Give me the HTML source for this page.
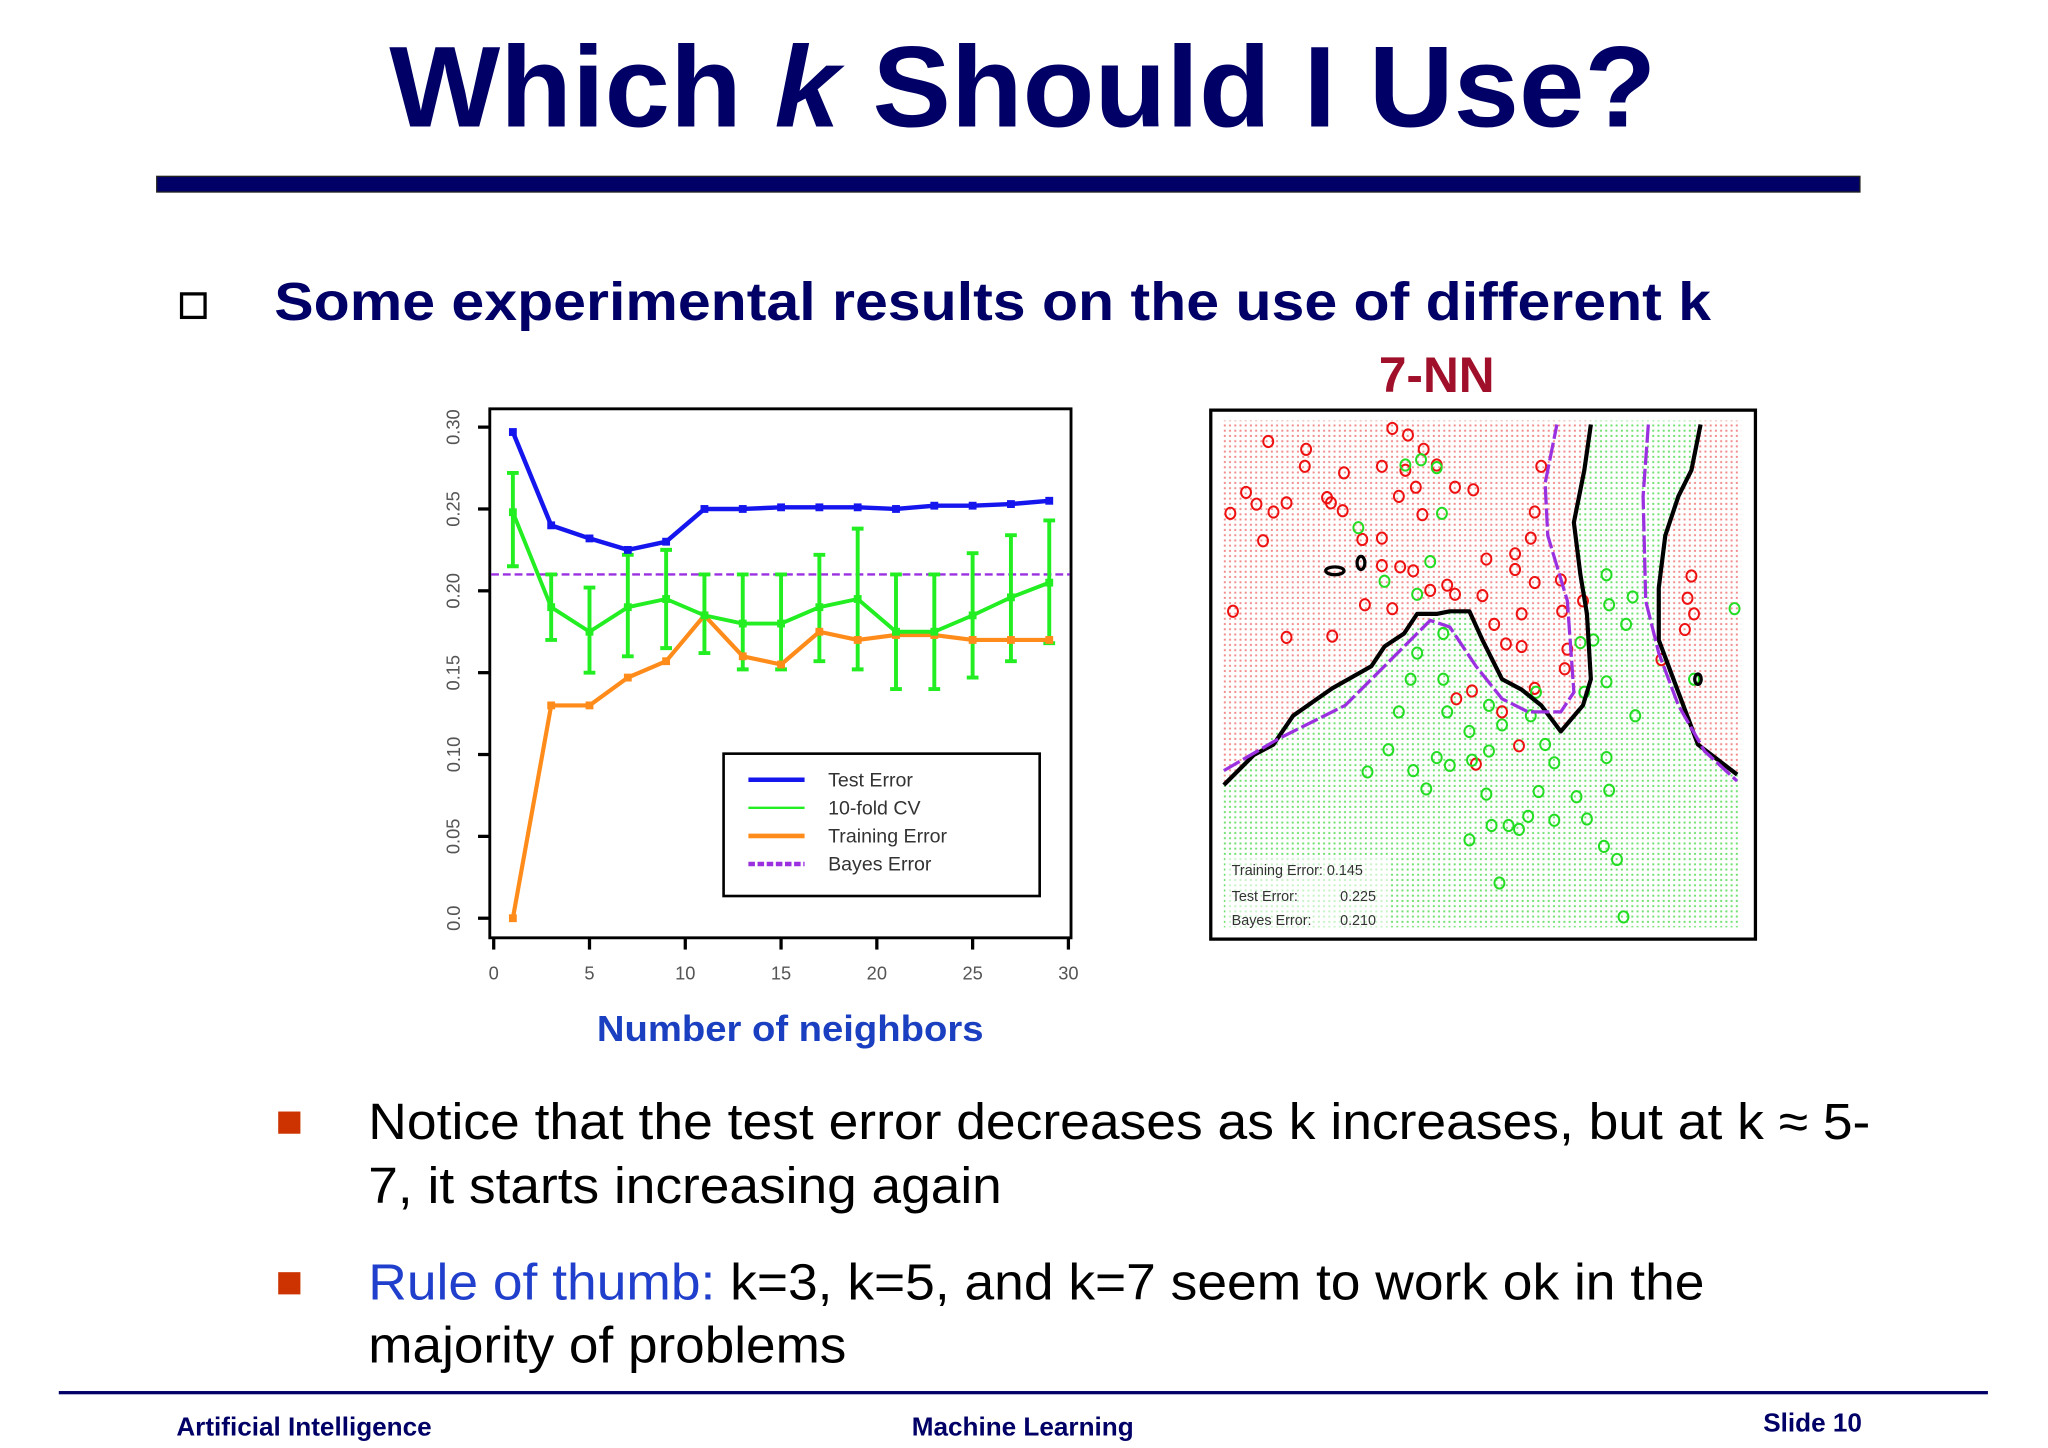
<!DOCTYPE html>
<html><head><meta charset="utf-8"><style>
html,body{margin:0;padding:0;background:#fff;width:2048px;height:1448px;overflow:hidden}
svg{display:block}
text{font-family:"Liberation Sans",Arial,sans-serif}
</style></head><body>
<svg id="page" width="2048" height="1448" viewBox="0 0 1568 1108.6" xmlns="http://www.w3.org/2000/svg">
<defs>
<pattern id="gdots" width="4" height="4" patternUnits="userSpaceOnUse"><rect x="1" y="1" width="1.5" height="1.5" fill="#6ee06e"/></pattern>
<pattern id="rdots" width="4" height="4" patternUnits="userSpaceOnUse"><rect width="4" height="4" fill="#fff"/><rect x="1" y="1" width="1.5" height="1.5" fill="#f28a8a"/></pattern>
</defs>
<text x="783" y="97" text-anchor="middle" font-size="88" font-weight="bold" fill="#000066" textLength="970" lengthAdjust="spacingAndGlyphs">Which <tspan font-style="italic">k</tspan> Should I Use?</text>
<rect x="120" y="135" width="1304" height="12" fill="#000066" stroke="#222" stroke-width="1"/>
<rect x="139" y="225" width="18" height="18" fill="none" stroke="#000" stroke-width="2.5"/>
<text x="210" y="245" font-size="41" font-weight="bold" fill="#000066" textLength="1100" lengthAdjust="spacingAndGlyphs">Some experimental results on the use of different k</text>
<text x="1100" y="300" text-anchor="middle" font-size="38" font-weight="bold" fill="#a0102a">7-NN</text>

<g id="chart"></g>
<text x="605" y="797" text-anchor="middle" font-size="28" font-weight="bold" fill="#1a3fc0" textLength="296" lengthAdjust="spacingAndGlyphs">Number of  neighbors</text>

<g id="knn">
<rect x="935" y="322" width="398" height="388" fill="url(#gdots)"/>
<polygon fill="url(#rdots)" points="935,322 1218,322 1213,360 1205,400 1210,440 1215,470 1218,520 1212,540 1195,560 1180,540 1165,528 1150,520 1135,490 1125,468 1100,470 1075,485 1050,510 1020,527 990,548 960,578 935,601"/>
<polygon fill="url(#rdots)" points="1302,322 1333,322 1333,595 1330,593 1300,570 1285,530 1270,490 1270,450 1275,410 1285,380 1295,360"/>
<rect x="938" y="655" width="125" height="55" fill="#fff" opacity="0.6"/>
<rect x="927" y="314" width="417" height="405" fill="none" stroke="#000" stroke-width="2.5"/>
<g id="pts"></g>
<polyline fill="none" stroke="#000" stroke-width="3.2" stroke-linejoin="round" points="937,601 960,578 975,570 990,548 1020,527 1050,510 1060,495 1075,485 1085,470 1100,470 1110,468 1125,468 1135,490 1150,520 1165,528 1180,540 1195,560 1212,540 1218,520 1215,470 1210,440 1205,400 1213,360 1218,325"/>
<polyline fill="none" stroke="#000" stroke-width="3.2" stroke-linejoin="round" points="1302,325 1295,360 1285,380 1275,410 1270,450 1270,490 1285,530 1300,570 1330,593"/>
<ellipse cx="1022" cy="437" rx="7" ry="3" fill="none" stroke="#000" stroke-width="2.5"/>
<ellipse cx="1042" cy="431" rx="3" ry="5" fill="none" stroke="#000" stroke-width="2.5"/>
<ellipse cx="1300" cy="520" rx="2.5" ry="4" fill="none" stroke="#000" stroke-width="2.5"/>
<polyline fill="none" stroke="#9b30e0" stroke-width="2.5" stroke-dasharray="14,3" points="937,590 980,565 1030,540 1070,500 1095,475 1110,480 1130,510 1150,535 1170,545 1195,545 1205,530 1200,460 1185,410 1183,370 1192,325"/>
<polyline fill="none" stroke="#9b30e0" stroke-width="2.5" stroke-dasharray="14,3" points="1262,325 1258,380 1260,460 1270,500 1285,540 1305,575 1330,598"/>
<g font-size="11" fill="#333">
<text x="943" y="670">Training Error: 0.145</text>
<text x="943" y="690">Test Error:</text>
<text x="1026" y="690">0.225</text>
<text x="943" y="708">Bayes Error:</text>
<text x="1026" y="708">0.210</text>
</g>
</g>

<rect x="213" y="851" width="17" height="17" fill="#cc3300"/>
<text x="282" y="872" font-size="39" fill="#000" textLength="1150" lengthAdjust="spacingAndGlyphs">Notice that the test error decreases as k increases, but at k ≈ 5-</text>
<text x="282" y="921" font-size="39" fill="#000" textLength="485" lengthAdjust="spacingAndGlyphs">7, it starts increasing again</text>
<rect x="213" y="974" width="17" height="17" fill="#cc3300"/>
<text x="282" y="995" font-size="39" fill="#000" textLength="1023" lengthAdjust="spacingAndGlyphs"><tspan fill="#1f3fcc">Rule of thumb:</tspan> k=3, k=5, and k=7 seem to work ok in the</text>
<text x="282" y="1043" font-size="39" fill="#000" textLength="366" lengthAdjust="spacingAndGlyphs">majority of problems</text>

<rect x="45" y="1065" width="1477" height="2.5" fill="#000066"/>
<text x="135" y="1099" font-size="20" font-weight="bold" fill="#000066">Artificial Intelligence</text>
<text x="783" y="1099" text-anchor="middle" font-size="20" font-weight="bold" fill="#000066">Machine Learning</text>
<text x="1350" y="1096" font-size="20" font-weight="bold" fill="#000066">Slide 10</text>
</svg>
<script>
const NS="http://www.w3.org/2000/svg";
const ks=[1,3,5,7,9,11,13,15,17,19,21,23,25,27,29];
const testErr=[0.297,0.240,0.232,0.225,0.230,0.250,0.250,0.251,0.251,0.251,0.250,0.252,0.252,0.253,0.255];
const cvErr=[0.248,0.190,0.175,0.190,0.195,0.185,0.180,0.180,0.190,0.195,0.175,0.175,0.185,0.196,0.205];
const cvLo=[0.215,0.170,0.150,0.160,0.165,0.162,0.152,0.152,0.157,0.152,0.140,0.140,0.147,0.157,0.168];
const cvHi=[0.272,0.210,0.202,0.222,0.225,0.210,0.210,0.210,0.222,0.238,0.210,0.210,0.223,0.234,0.243];
const trainErr=[0.000,0.130,0.130,0.147,0.157,0.185,0.160,0.155,0.175,0.170,0.173,0.173,0.170,0.170,0.170];
const bayesErr=0.21;
const yTicks=[0,0.05,0.10,0.15,0.20,0.25,0.30];
const yTickLabels=["0.0","0.05","0.10","0.15","0.20","0.25","0.30"];
const xTicks=[0,5,10,15,20,25,30];
const xTickLabels=["0","5","10","15","20","25","30"];
const redPts=[[971,338],[1000,344],[1029,362],[1066,328],[1078,333],[1090,344],[999,357],[1016,381],[942,393],[954,377],[962,386],[975,392],[985,385],[967,414],[1019,385],[1028,391],[1058,357],[1076,360],[1084,373],[1100,356],[1114,373],[1128,375],[1089,394],[1071,380],[1043,413],[1058,433],[1082,437],[1095,452],[1108,448],[1066,466],[1072,434],[1058,412],[1045,463],[1020,487],[985,488],[944,468],[1138,428],[1160,424],[1172,412],[1160,436],[1175,446],[1135,456],[1114,455],[1165,470],[1144,478],[1153,493],[1165,495],[1200,497],[1196,468],[1212,460],[1198,512],[1175,527],[1150,545],[1163,571],[1130,585],[1127,529],[1295,441],[1292,458],[1297,470],[1290,482],[1272,505],[1180,357],[1175,392],[1195,444],[1115,535]];
const greenPts=[[1076,356],[1088,352],[1100,358],[1040,404],[1095,430],[1104,393],[1060,445],[1085,455],[1105,485],[1230,440],[1232,463],[1245,478],[1220,490],[1250,457],[1210,492],[1213,530],[1230,522],[1176,530],[1150,555],[1140,540],[1105,520],[1108,545],[1085,500],[1080,520],[1071,545],[1063,574],[1082,590],[1047,591],[1092,604],[1110,586],[1125,560],[1140,575],[1138,608],[1142,632],[1155,632],[1170,625],[1178,606],[1190,628],[1207,610],[1215,627],[1232,605],[1230,580],[1163,635],[1125,643],[1148,676],[1228,648],[1238,658],[1243,702],[1328,466],[1297,520],[1252,548],[1172,548],[1183,570],[1190,584],[1127,582],[1100,580]];

const X0=378,X1=818,Y0=703,Y1=327;
const sx=v=>X0+(v-0)/30*(X1-X0);
const sy=v=>Y0-(v-0)/0.30*(Y0-Y1);
function mk(tag,attrs,parent){const e=document.createElementNS(NS,tag);for(const k in attrs)e.setAttribute(k,attrs[k]);parent.appendChild(e);return e;}
const g=document.getElementById('chart');
const frame=mk('rect',{x:375,y:313,width:445,height:405,fill:'#fff',stroke:'#000','stroke-width':2.2},g);


yTicks.forEach((t,i)=>{
  const l=mk('line',{x1:366,x2:375,y1:sy(t),y2:sy(t),stroke:'#000','stroke-width':2.5},g);
  
  
  const tx=mk('text',{x:352,y:sy(t),'text-anchor':'middle','font-size':14,fill:'#555',transform:`rotate(-90 352 ${sy(t)})`},g);
  tx.textContent=yTickLabels[i];
  
  
});
xTicks.forEach((t,i)=>{
  const l=mk('line',{x1:sx(t),x2:sx(t),y1:718,y2:727,stroke:'#000','stroke-width':2.5},g);
  
  
  const tx=mk('text',{x:sx(t),y:750,'text-anchor':'middle','font-size':14,fill:'#555'},g);
  tx.textContent=xTickLabels[i];
  
  
});
const bl=mk('line',{x1:376,x2:819,y1:sy(bayesErr),y2:sy(bayesErr),stroke:'#9b30e0','stroke-width':1.8,'stroke-dasharray':'6,3'},g);


function series(vals,color,w,name){
  const pl=mk('polyline',{fill:'none',stroke:color,'stroke-width':w,'stroke-linejoin':'round',points:ks.map((k,i)=>sx(k)+','+sy(vals[i])).join(' ')},g);
  
  
  ks.forEach((k,i)=>{
    const p=mk('rect',{x:sx(k)-3,y:sy(vals[i])-3,width:6,height:6,fill:color},g);
    
    
  });
}
ks.forEach((k,i)=>{
  const eb=mk('path',{d:`M${sx(k)},${sy(cvLo[i])}V${sy(cvHi[i])}M${sx(k)-4.5},${sy(cvLo[i])}h9M${sx(k)-4.5},${sy(cvHi[i])}h9`,stroke:'#22ee22','stroke-width':3,fill:'none'},g);
  
  
});
series(trainErr,'#ff8c1a',3.2,'training-error');
series(cvErr,'#22ee22',3,'cv-error');
series(testErr,'#1515ee',3.4,'test-error');
const lg=mk('g',{},g);


mk('rect',{x:554,y:577,width:242,height:109,fill:'#fff',stroke:'#000','stroke-width':2},lg);
const items=[['Test Error','#1515ee',3.5,''],['10-fold CV','#22ee22',1.8,''],['Training Error','#ff8c1a',3.5,''],['Bayes Error','#9b30e0',3.5,'5,2']];
items.forEach((it,i)=>{
  const y=597+i*21.5;
  const ln=mk('line',{x1:573,x2:616,y1:y,y2:y,stroke:it[1],'stroke-width':it[2],'stroke-dasharray':it[3]||'none'},lg);
  
  
  const t=mk('text',{x:634,y:y+5,'font-size':15,fill:'#333'},lg);
  t.textContent=it[0];
  
  
});
const pg=document.getElementById('pts');
redPts.forEach(p=>{
  const c=mk('ellipse',{cx:p[0],cy:p[1],rx:3.8,ry:4.3,fill:'none',stroke:'#ee1111','stroke-width':1.5},pg);
  
  
});
greenPts.forEach(p=>{
  const c=mk('ellipse',{cx:p[0],cy:p[1],rx:3.8,ry:4.3,fill:'none',stroke:'#22dd22','stroke-width':1.5},pg);
  
  
});
</script>
</body></html>
